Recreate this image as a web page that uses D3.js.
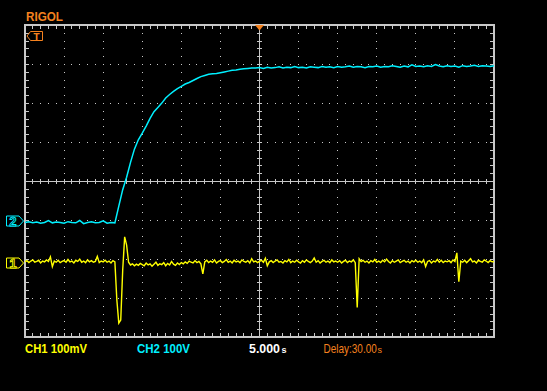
<!DOCTYPE html>
<html><head><meta charset="utf-8">
<script src="https://cdn.jsdelivr.net/npm/d3@7/dist/d3.min.js"></script>
<style>html,body{margin:0;padding:0;background:#000;} svg{display:block;}</style>
</head><body>
<svg id="c" width="547" height="391"></svg>
<script>
// ---- settings ----
const timeDivs = 12, voltDivs = 8;
const secPerDiv = 5;            // 5.000 s/div
const timeStart = 0;            // s at left edge of screen
const ch1Step = 0.25;           // s between CH1 samples
const ch2Step = 0.5;            // s between CH2 samples
const ch1PerDiv = 100;          // mV/div
const ch2PerDiv = 100;          // V/div
const ch1Position = -2.1;       // div (ground marker)
const ch2Position = -1.01;      // div (ground marker)

// CH1 (mV), one row per division
const ch1Values = [
  4, 7, 2, 6, 9, 3, 5, 8, 1, 6, 4, 9, 5, 17, -8, 6, 3, 8, 2, 5,
  7, 3, 10, 4, 6, 1, 8, 5, 11, 3, 6, 2, 9, 4, 7, 3, 5, 18, 2, 6,
  4, 8, 3, 6, 1, 7, 4, -94, -153, -145, -17, 68, 47, 3, -4, -1, -6, -2, -5, 0,
  -3, -6, 1, -4, -1, -7, -2, 3, -5, -1, -3, 2, -6, 0, -4, 5, -2, -5, 1, -3,
  2, -1, 4, 0, 6, 3, 1, 7, 2, 5, -1, -27, 4, 8, 2, 6, 3, 9, 1, 5,
  7, 2, 5, 10, 3, 6, 1, 8, 4, 6, 2, 9, 5, 3, 7, 1, 12, 4, 6, 2,
  5, 8, 3, 13, -6, 4, 7, 2, 6, 9, 3, 5, 1, 7, 4, 10, 2, 6, 3, 8,
  4, 1, 7, 3, 9, 5, 2, 6, 14, 3, 7, 1, 5, 8, 3, 6, 2, 9, 4, 6,
  3, 7, 1, 5, 8, 2, 6, 4, 9, 2, -113, 12, 5, 8, 3, 6, 1, 7, 4, 10,
  3, 6, 2, 8, 4, 11, 5, 1, 7, 3, 6, 9, 2, 5, 8, 3, 6, 1, 7, 4,
  8, 3, 6, 2, 9, -8, 5, 7, 1, 6, 4, 10, 3, 8, 2, 6, 4, 7, 2, 9,
  5, 27, -47, 6, 3, 8, 2, 7, 12, 4, 6, 1, 8, 5, 3, 9, 6, 2, 7, 4,
  5
];

// CH2 (V)
const ch2Values = [
  -4, -2, -5, -3, -6, -4, 1, -5, -3, -4, -6, -2, -4, -5, 1, -7, -4, -2, -5, -4, 0, -6, -4, -5,
  38, 80, 112, 150, 184, 208, 225, 243, 263, 280, 291, 302, 315, 324, 332, 339, 345, 351,
  355, 360, 365, 370, 373, 376, 377, 378, 380, 382, 384, 386, 387, 389, 390, 391, 392, 392,
  393, 391, 394, 392, 393, 395, 392, 394, 393, 396,
  393, 394, 392, 395, 394, 393, 396, 394, 395, 393,
  396, 394, 395, 397, 394, 396, 395, 393, 396, 395,
  397, 394, 396, 395, 398, 396, 394, 397, 395, 400,
  396, 397, 395, 398, 396, 401, 397, 395, 398, 396,
  397, 394, 398, 396, 397, 399, 396, 398, 397, 396,
  398
];

const brandText = "RIGOL";
const ch1Label = "CH1 100mV";
const ch2Label = "CH2 100V";
const timeLabel = "5.000";
const delayLabel = "Delay:30.00";
const unitLabel = "s";

// ---- drawing ----
const C = {bg:"#000", grid:"#c8c8c8", ch1:"#ffff00", ch2:"#00f0ff", orange:"#f5821f", white:"#ffffff"};
const svg = d3.select("#c");
svg.append("rect").attr("width",547).attr("height",391).attr("fill",C.bg);

const x = d3.scaleLinear().domain([timeStart, timeStart + timeDivs*secPerDiv]).range([25, 494]);
const y = d3.scaleLinear().domain([-voltDivs/2, voltDivs/2]).range([337.5, 25.5]);

const minorT = d3.range(timeStart, timeStart + timeDivs*secPerDiv + 1e-6, secPerDiv/5);
const minorV = d3.range(-voltDivs/2, voltDivs/2 + 1e-6, 0.2);
const majorT = d3.range(1, timeDivs).map(i => timeStart + i*secPerDiv).filter(t => t !== timeStart + timeDivs/2*secPerDiv);
const majorV = d3.range(-voltDivs/2+1, voltDivs/2).filter(v => v !== 0);

const grid = svg.append("g");
const dots = [];
majorT.forEach(t => minorV.slice(1,-1).forEach(v => dots.push([Math.floor(x(t)), Math.floor(y(v))])));
majorV.forEach(v => minorT.slice(1,-1).forEach(t => dots.push([Math.floor(x(t)), Math.floor(y(v))])));
grid.selectAll("rect.dot").data(dots).join("rect").attr("class","dot")
  .attr("x",d=>d[0]).attr("y",d=>d[1]).attr("width",1).attr("height",1).attr("fill",C.grid);

const cx = Math.floor(x(timeStart + timeDivs/2*secPerDiv)) + 0.5;
const cy = Math.floor(y(0)) + 0.5;
grid.append("line").attr("x1",cx).attr("x2",cx).attr("y1",25).attr("y2",337).attr("stroke",C.grid);
grid.append("line").attr("x1",25).attr("x2",494).attr("y1",cy).attr("y2",cy).attr("stroke",C.grid);
minorV.slice(1,-1).forEach(v => {
  const yy = Math.floor(y(v)) + 0.5;
  grid.append("line").attr("x1",cx-2.5).attr("x2",cx+2.5).attr("y1",yy).attr("y2",yy).attr("stroke",C.grid);
  grid.append("line").attr("x1",26).attr("x2",29).attr("y1",yy).attr("y2",yy).attr("stroke",C.grid);
  grid.append("line").attr("x1",490).attr("x2",493).attr("y1",yy).attr("y2",yy).attr("stroke",C.grid);
});
minorT.slice(1,-1).forEach(t => {
  const xx = Math.floor(x(t)) + 0.5;
  grid.append("line").attr("x1",xx).attr("x2",xx).attr("y1",cy-2.5).attr("y2",cy+2.5).attr("stroke",C.grid);
  grid.append("line").attr("x1",xx).attr("x2",xx).attr("y1",26).attr("y2",29).attr("stroke",C.grid);
  grid.append("line").attr("x1",xx).attr("x2",xx).attr("y1",333).attr("y2",336).attr("stroke",C.grid);
});
grid.append("rect").attr("x",25).attr("y",25).attr("width",469).attr("height",312)
  .attr("fill","none").attr("stroke",C.grid).attr("stroke-width",2);

// traces
const y1 = v => y(v/ch1PerDiv + ch1Position);
const y2 = v => y(v/ch2PerDiv + ch2Position);
const line1 = d3.line().x((d,i)=>x(timeStart + i*ch1Step)).y(d=>y1(d));
const line2 = d3.line().x((d,i)=>x(timeStart + i*ch2Step)).y(d=>y2(d));
svg.append("path").datum(ch1Values).attr("d",line1).attr("fill","none")
  .attr("stroke",C.ch1).attr("stroke-width",1.4).attr("stroke-linejoin","miter");
svg.append("path").datum(ch2Values).attr("d",line2).attr("fill","none")
  .attr("stroke",C.ch2).attr("stroke-width",1.5);

// channel markers
function chMarker(yc, color, label){
  const g = svg.append("g");
  g.append("path").attr("d",`M6.5,${yc-5}H19L23.5,${yc}L19,${yc+5}H6.5Z`)
    .attr("fill","none").attr("stroke",color).attr("stroke-width",1);
  g.append("text").attr("x",13).attr("y",yc+4.5).attr("text-anchor","middle")
    .attr("font-family","Liberation Sans, Arial, sans-serif").attr("font-weight","bold").attr("font-size",12.5)
    .attr("fill","#000").attr("stroke",color).attr("stroke-width",0.9).text(label);
}
chMarker(Math.round(y(ch2Position)), C.ch2, "2");
chMarker(Math.round(y(ch1Position)), C.ch1, "1");

// trigger position marker (top) and T marker
svg.append("path").attr("d",`M${cx-4.5},25H${cx+4.5}L${cx},30.5Z`).attr("fill",C.orange);
svg.append("path").attr("d","M27,36L30.5,31.5H42.5V40.5H30.5Z").attr("fill","none").attr("stroke",C.orange);
svg.append("text").attr("x",36.5).attr("y",40).attr("text-anchor","middle")
  .attr("font-family","Liberation Mono, monospace").attr("font-size",11).attr("font-weight","bold")
  .attr("fill",C.orange).text("T");

// brand
svg.append("text").attr("x",26).attr("y",20.7).attr("font-family","Liberation Sans, Arial, sans-serif")
  .attr("font-weight","bold").attr("font-size",12).attr("textLength",37).attr("lengthAdjust","spacingAndGlyphs")
  .attr("fill",C.orange).text(brandText);

// bottom status
const fontB = "Liberation Sans, Arial, sans-serif";
function label(xp, txt, color, size, bold, len){
  const t = svg.append("text").attr("x",xp).attr("y",352.7).attr("font-family",fontB)
    .attr("font-weight",bold?"bold":"normal").attr("font-size",size).attr("fill",color).text(txt);
  if (len) t.attr("textLength",len).attr("lengthAdjust","spacingAndGlyphs");
  return t;
}
label(25, ch1Label, C.ch1, 13, true, 62);
label(137, ch2Label, C.ch2, 13, true, 53);
label(249, timeLabel, C.white, 13, true, 31);
label(281.5, unitLabel, C.white, 9, true, 0);
// narrow delay text: natural width at 10px, stretched vertically to match height
svg.append("text").attr("transform","translate(323.5,352.7) scale(1,1.2)")
  .attr("font-family",fontB).attr("font-size",10).attr("fill",C.orange).text(delayLabel);
label(377.5, unitLabel, C.orange, 9, false, 0);
</script>
</body></html>
